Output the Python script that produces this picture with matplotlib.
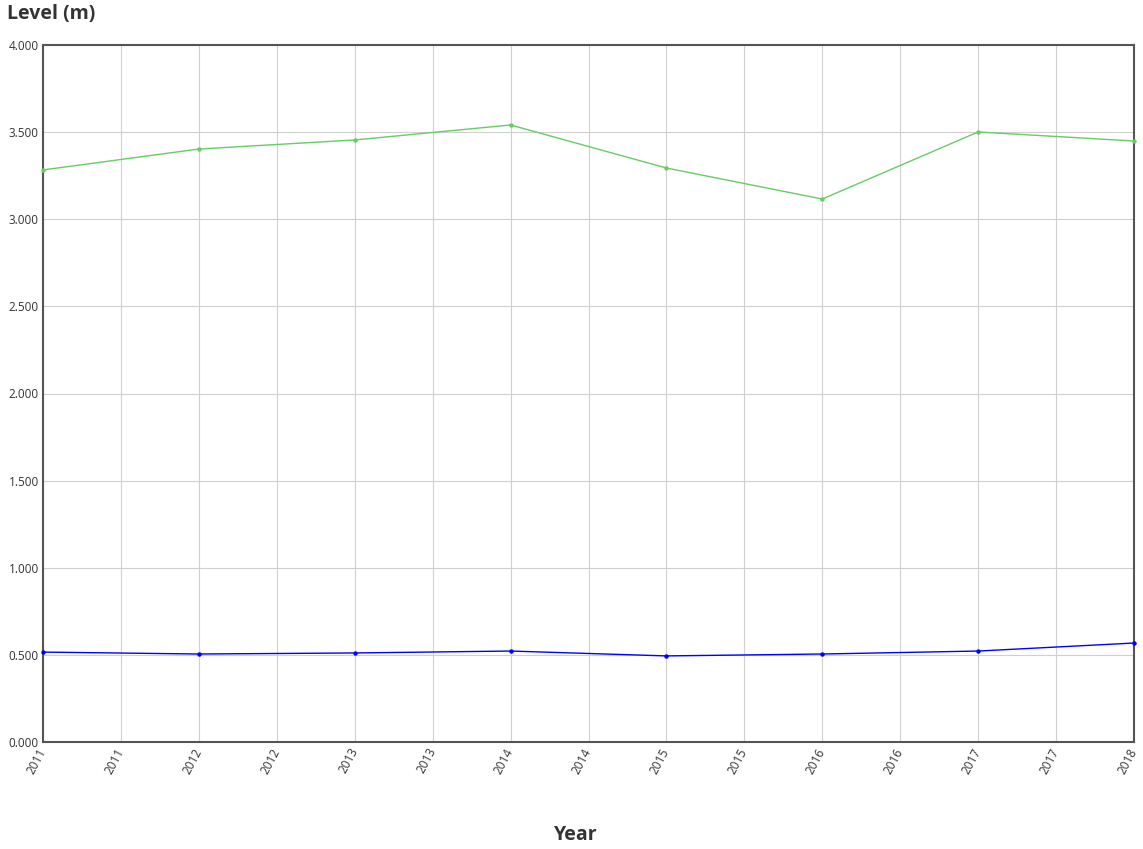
import matplotlib
matplotlib.use("Agg")
import matplotlib.pyplot as plt
from matplotlib.ticker import FuncFormatter

plt.rcParams['font.family'] = ['Open Sans', 'DejaVu Sans']

years = [2011, 2012, 2013, 2014, 2015, 2016, 2017, 2018]
green_level = [3.283, 3.403, 3.455, 3.541, 3.294, 3.116, 3.501, 3.449]
blue_level = [0.516, 0.505, 0.511, 0.522, 0.494, 0.505, 0.522, 0.568]
tick_pos = [2011 + 0.5 * i for i in range(15)]
tick_labels = ["2011", "2011", "2012", "2012", "2013", "2013", "2014", "2014",
               "2015", "2015", "2016", "2016", "2017", "2017", "2018"]
y_ticks = [0.0, 0.5, 1.0, 1.5, 2.0, 2.5, 3.0, 3.5, 4.0]

fig = plt.figure(figsize=(11.43, 8.49), dpi=100)
ax = fig.add_axes([43/1143, 1 - 742/849, (1134 - 43)/1143, (742 - 45)/849])

ax.plot(years, green_level, color='#66cc66', lw=1.0, marker='o', ms=2.2, zorder=3, clip_on=False)
ax.plot(years, blue_level, color='#0000ff', lw=1.0, marker='o', ms=2.2, zorder=3, clip_on=False)

ax.set_xlim(2011, 2018)
ax.set_ylim(0, 4.0)
ax.set_xticks(tick_pos)
ax.set_xticklabels(tick_labels, rotation=62, ha='right', va='center',
                   rotation_mode='anchor', fontsize=8.5, color='#333333')
ax.set_yticks(y_ticks)
ax.yaxis.set_major_formatter(FuncFormatter(lambda v, p: f"{v:.3f}"))
ax.tick_params(axis='y', labelsize=8.5, labelcolor='#333333', length=0, pad=3)
ax.tick_params(axis='x', length=0, pad=5)
ax.grid(True, color='#d0d0d0', lw=0.8)
ax.set_axisbelow(True)
for s in ax.spines.values():
    s.set_color('#555555')
    s.set_linewidth(1.5)

fig.text(7/1143, 1 - 14/849, "Level (m)", fontsize=14, fontweight='bold', color='#333333', ha='left', va='center')
fig.text(576/1143, 1 - 835/849, "Year", fontsize=14, fontweight='bold', color='#333333', ha='center', va='center')

fig.savefig("out.png", dpi=100)
